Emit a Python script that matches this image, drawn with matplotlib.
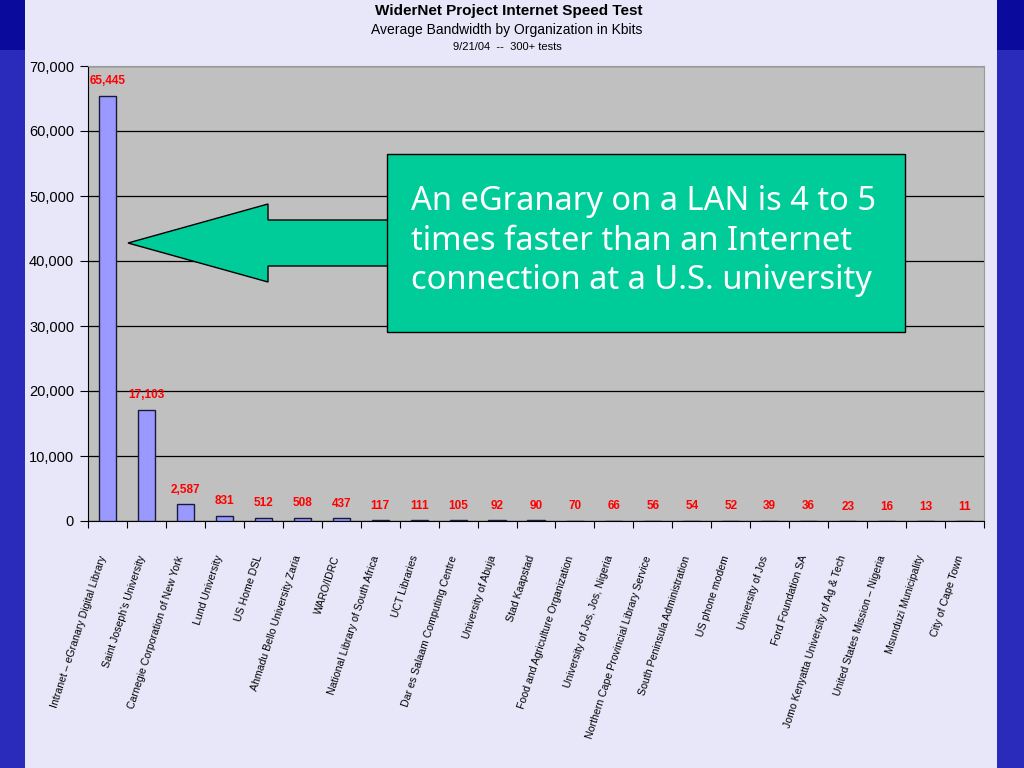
import matplotlib
matplotlib.use('Agg')
import matplotlib.pyplot as plt
from matplotlib.patches import Rectangle, Polygon
from matplotlib.ticker import FuncFormatter, MultipleLocator

plt.rcParams.update({"font.family": ["Liberation Sans", "DejaVu Sans"]})

# 数据
orgs = [
    "Intranet \u2013 eGranary Digital Library", "Saint Joseph's University",
    "Carnegie Corporation of New York", "Lund University", "US Home DSL",
    "Ahmadu Bello University Zaria", "WARO/IDRC", "National Library of South Africa",
    "UCT Libraries", "Dar es Salaam Computing Centre", "University of Abuja",
    "Stad Kaapstad", "Food and Agriculture Organization", "University of Jos, Jos, Nigeria",
    "Northern Cape Provincial Library Service", "South Peninsula Administration",
    "US phone modem", "University of Jos", "Ford Foundation SA",
    "Jomo Kenyatta University of Ag & Tech", "United States Mission \u2013 Nigeria",
    "Msunduzi Municipality", "City of Cape Town",
]
kbits = [65445, 17103, 2587, 831, 512, 508, 437, 117, 111, 105, 92, 90,
         70, 66, 56, 54, 52, 39, 36, 23, 16, 13, 11]

title = "WiderNet Project Internet Speed Test"
subtitle = "Average Bandwidth by Organization in Kbits"
subtitle2 = "9/21/04  --  300+ tests"
callout = "An eGranary on a LAN is 4 to 5\ntimes faster than an Internet\nconnection at a U.S. university"

fig = plt.figure(figsize=(10.24, 7.68), dpi=100)
fig.patch.set_facecolor('#2b2bbb')

# 幻灯片背景
W, H = 1024, 768
fig.patches.append(Rectangle((0, 1 - 50 / H), 25 / W, 50 / H, transform=fig.transFigure,
                             facecolor='#0a0a9c', edgecolor='none', zorder=-2))
fig.patches.append(Rectangle((997 / W, 1 - 50 / H), 27 / W, 50 / H, transform=fig.transFigure,
                             facecolor='#0a0a9c', edgecolor='none', zorder=-2))
fig.patches.append(Rectangle((25 / W, 0), 972 / W, 1, transform=fig.transFigure,
                             facecolor='#e7e7f9', edgecolor='none', zorder=-2))

ax = fig.add_axes([88 / W, 1 - 521 / H, (984 - 88) / W, (521 - 66) / H])
ax.set_zorder(1)
ax.set_facecolor('#c0c0c0')

n = len(kbits)
xs = [i + 0.5 for i in range(n)]
ax.bar(xs, kbits, width=0.44, color='#9999ff', edgecolor='#1a1a3a', linewidth=1.0, zorder=3)

for x, v in zip(xs, kbits):
    ax.annotate(f"{v:,}", (x, v), xytext=(0, 6), textcoords='offset points',
                ha='center', va='bottom', color='#ff0000', fontsize=8.5, fontweight='bold',
                zorder=4)

ax.set_xlim(0, n)
ax.set_ylim(0, 70000)
ax.yaxis.set_major_locator(MultipleLocator(10000))
ax.yaxis.set_major_formatter(FuncFormatter(lambda v, p: f"{int(v):,}"))
ax.tick_params(axis='y', labelsize=10.5, length=6, direction='out', pad=4)
ax.grid(axis='y', color='black', linewidth=0.9, zorder=1)

ax.set_xticks(range(n + 1))
ax.set_xticklabels([])
ax.tick_params(axis='x', length=5, direction='out')

for x, name in zip(xs, orgs):
    ax.annotate(name, (x, 0), xytext=(-3, -25), textcoords='offset points',
                rotation=72, rotation_mode='anchor', ha='right', va='center',
                fontsize=7.6, family=['Liberation Sans Narrow', 'Liberation Sans'],
                annotation_clip=False)

for s in ['top', 'right']:
    ax.spines[s].set_color('#9a9a9a')
ax.spines['left'].set_color('black')
ax.spines['bottom'].set_color('black')

# 标题
fig.text(509 / W, 1 - 11 / H, title, ha='center', va='center', fontsize=11, fontweight='bold')
fig.text(507 / W, 1 - 30 / H, subtitle, ha='center', va='center', fontsize=10)
fig.text(507 / W, 1 - 47 / H, subtitle2, ha='center', va='center', fontsize=8)

# 说明框和箭头 (像素坐标)
def px(x, y):
    return (x / W, 1 - y / H)

arrow = [px(128, 243), px(268, 204), px(268, 220), px(390, 220),
         px(390, 266), px(268, 266), px(268, 282)]
fig.patches.append(Polygon(arrow, closed=True, transform=fig.transFigure,
                           facecolor='#00cc99', edgecolor='black', linewidth=1, zorder=5))
fig.patches.append(Rectangle(px(387, 332), 518 / W, 178 / H, transform=fig.transFigure,
                             facecolor='#00cc99', edgecolor='black', linewidth=1, zorder=6))
fig.text(411 / W, 1 - 241 / H, callout, ha='left', va='center', color='white',
         fontsize=23.5, family=['Noto Sans', 'DejaVu Sans'], linespacing=1.25, zorder=7)

plt.savefig('out.png', dpi=100, facecolor=fig.get_facecolor())
